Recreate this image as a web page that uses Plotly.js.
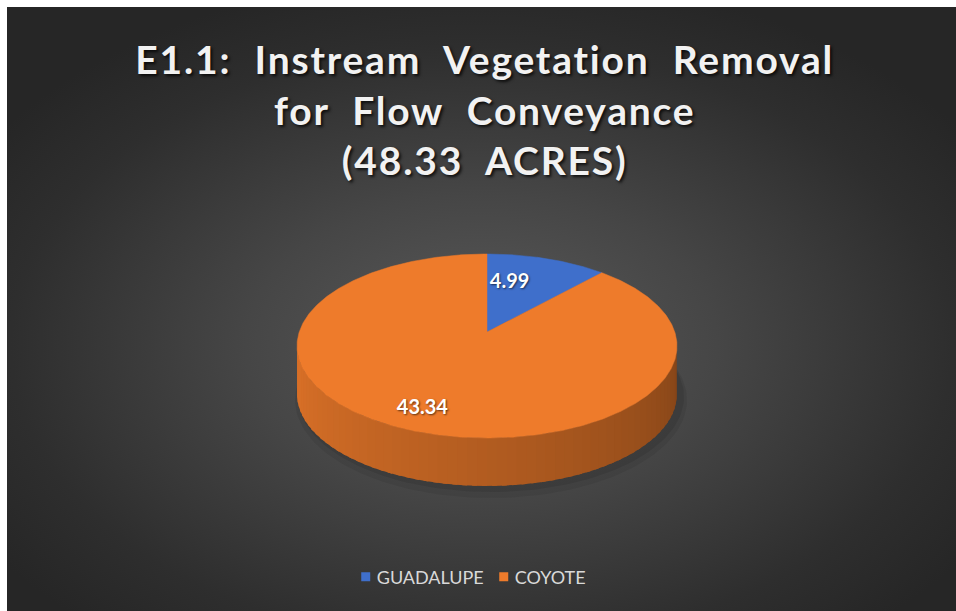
<!DOCTYPE html>
<html>
<head>
<meta charset="utf-8">
<script src="https://cdn.plot.ly/plotly-3.0.1.min.js"></script>
<style>
  html, body { margin: 0; padding: 0; background: #ffffff; width: 956px; height: 611px; overflow: hidden; }
  #bg { position: absolute; left: 7px; top: 7px; width: 949px; height: 604px;
        background: radial-gradient(ellipse 62% 62% at 50% 56%, #5a5a5a 0%, #464646 40%, #2e2e2e 80%, #262626 100%); }
  #chart { position: absolute; left: 0; top: 0; width: 956px; height: 611px; }
  .gtitle { letter-spacing: 1.8px; word-spacing: 12px; }
  .legend .legendtext { transform: translateX(-9px); }
</style>
</head>
<body>
<div id="bg"></div>
<div id="chart"></div>
<script>
// ---- data ----
const categories = ['GUADALUPE', 'COYOTE'];
const values = [4.99, 43.34];
const valueLabels = ['4.99', '43.34'];
const colors = ['#3F6FCB', '#EE7B2B'];
const titleLines = ['E1.1: Instream Vegetation Removal', 'for Flow Conveyance', '(48.33 ACRES)'];

// ---- geometry / style (pixel units on hidden axes) ----
const G = { cx: 487, cy: 346, rx: 190, ry: 92, depth: 48, apexDy: -14,
            labelK: 0.72, labelDx: -21, labelDy: 0 };

function rgbOf(hex) {
  return [parseInt(hex.slice(1,3),16), parseInt(hex.slice(3,5),16), parseInt(hex.slice(5,7),16)];
}
function shade(hex, f) {
  const c = rgbOf(hex).map(v => Math.max(0, Math.min(255, Math.round(v * f))));
  return 'rgb(' + c.join(',') + ')';
}
function pt(theta, dy) {
  const r = theta * Math.PI / 180;
  return [G.cx + G.rx * Math.sin(r), G.cy - G.ry * Math.cos(r) + (dy || 0)];
}

const total = values.reduce((a, b) => a + b, 0);
const traces = [];

// soft shadow under the pie
[[6, 6, 0.07], [3, 3, 0.09]].forEach(([grow, off, a]) => {
  const xs = [], ys = [];
  for (let t = 0; t <= 360; t += 2) {
    const r = t * Math.PI / 180;
    xs.push(G.cx + 4 + (G.rx + grow) * Math.sin(r));
    ys.push(G.cy + G.depth + off - (G.ry + grow) * Math.cos(r));
  }
  traces.push({ type: 'scatter', x: xs, y: ys, mode: 'lines', fill: 'toself',
    fillcolor: 'rgba(0,0,0,' + a + ')', line: { width: 0 }, hoverinfo: 'skip', showlegend: false });
});

// slice angles
const slices = [];
let acc = 0;
values.forEach((v, i) => {
  const a0 = acc / total * 360;
  acc += v;
  const a1 = acc / total * 360;
  slices.push({ i, a0, a1 });
});

// side walls (front half: 90..270 deg, clockwise from top)
slices.forEach(s => {
  const lo = Math.max(s.a0, 90), hi = Math.min(s.a1, 270);
  if (hi <= lo) return;
  const step = 3;
  for (let t = lo; t < hi; t += step) {
    const t2 = Math.min(hi, t + step + 1.5);
    const xs = [], ys = [];
    for (let u = t; u <= t2 + 1e-9; u += 0.5) { const p = pt(u); xs.push(p[0]); ys.push(p[1]); }
    for (let u = t2; u >= t - 1e-9; u -= 0.5) { const p = pt(u, G.depth); xs.push(p[0]); ys.push(p[1]); }
    const mid = t + step / 2;
    const f = 0.55 + 0.37 * Math.pow(Math.min(1, (mid - 90) / 180), 0.9);
    const col = shade(colors[s.i], f);
    traces.push({ type: 'scatter', x: xs, y: ys, mode: 'lines', fill: 'toself',
      fillcolor: col, line: { width: 0, color: col }, hoverinfo: 'skip', showlegend: false });
  }
});

// top faces
slices.forEach(s => {
  const xs = [G.cx], ys = [G.cy + G.apexDy];
  for (let t = s.a0; t <= s.a1 + 1e-9; t += 0.5) { const p = pt(t); xs.push(p[0]); ys.push(p[1]); }
  const pe = pt(s.a1); xs.push(pe[0]); ys.push(pe[1]);
  xs.push(G.cx); ys.push(G.cy + G.apexDy);
  traces.push({ type: 'scatter', x: xs, y: ys, mode: 'lines', fill: 'toself',
    fillcolor: colors[s.i], line: { width: 0.5, color: colors[s.i] }, hoverinfo: 'skip',
    showlegend: false, legendgroup: categories[s.i] });
});

// data labels
const lx = [], ly = [];
slices.forEach(s => {
  const mid = (s.a0 + s.a1) / 2, r = mid * Math.PI / 180;
  lx.push(G.cx + G.labelDx + G.rx * G.labelK * Math.sin(r));
  ly.push(G.cy + G.labelDy - G.ry * G.labelK * Math.cos(r));
});
traces.push({ type: 'scatter', x: lx, y: ly, mode: 'text', text: valueLabels,
  textfont: { family: 'Lato, sans-serif', size: 20, weight: 700, color: '#ffffff', shadow: '1px 1px 2px rgba(0,0,0,0.6)' },
  hoverinfo: 'skip', showlegend: false });

// legend entries
categories.forEach((c, i) => {
  traces.push({ type: 'scatter', x: [null], y: [null], mode: 'markers', name: c,
    legendgroup: c, marker: { symbol: 'square', size: 9, color: colors[i] } });
});

const layout = {
  width: 956, height: 611,
  margin: { l: 0, r: 0, t: 0, b: 0 },
  paper_bgcolor: 'rgba(0,0,0,0)', plot_bgcolor: 'rgba(0,0,0,0)',
  hovermode: false,
  xaxis: { range: [0, 956], visible: false, fixedrange: true },
  yaxis: { range: [611, 0], visible: false, fixedrange: true },
  title: {
    text: titleLines.join('<br>'),
    x: 0.507, xanchor: 'center', xref: 'container',
    y: 1 - 74 / 611, yanchor: 'top', yref: 'container',
    font: { family: 'Lato, sans-serif', size: 39, weight: 700, color: '#f2f2f2',
            shadow: '2px 2px 3px rgba(0,0,0,0.75)' }
  },
  showlegend: true,
  legend: {
    orientation: 'h', x: 0.506, xanchor: 'center', y: 1 - 577 / 611, yanchor: 'middle',
    bgcolor: 'rgba(0,0,0,0)', itemwidth: 30, traceorder: 'normal',
    entrywidth: 93, entrywidthmode: 'pixels',
    font: { family: 'Lato, sans-serif', size: 18, color: '#d9d9d9' }
  }
};

Plotly.newPlot('chart', traces, layout, { displayModeBar: false, staticPlot: true });
</script>
</body>
</html>
